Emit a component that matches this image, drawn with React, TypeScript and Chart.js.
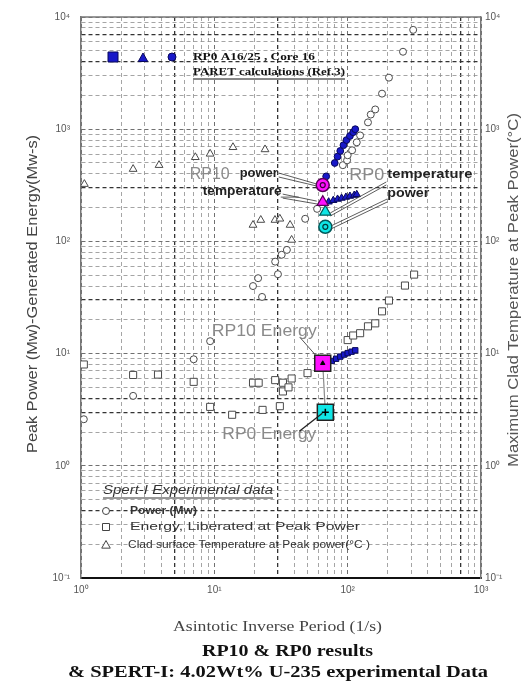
import React, { useEffect, useRef } from 'react';
import { Chart, registerables } from 'chart.js';

Chart.register(...registerables);

// ---------- axes ----------
const xDecades = [1, 10, 100, 1000];
const yDecades = [0.1, 1, 10, 100, 1000, 10000];
const minorSteps = [2, 3, 4, 5, 6, 7, 8, 9];
const xBoldGrid = [5, 30, 700];
const yBoldGrid = [0.4, 3, 4, 30, 300, 4000, 7000];

// ---------- SPERT-I experimental data (open markers) ----------
const spertPowerX = [1.05, 2.46, 7.0, 9.3, 19.5, 21.3, 22.8, 28.6, 30, 32, 35, 48, 59, 92, 99, 100, 108, 117, 124, 142, 149, 161, 181, 204, 260, 310];
const spertPowerY = [2.6, 4.2, 8.9, 12.9, 40, 47, 32, 66, 51, 76, 84, 159, 195, 478, 528, 586, 649, 764, 880, 1150, 1350, 1500, 2075, 2880, 4900, 7680];

const spertEnergyX = [1.05, 2.46, 3.78, 7.0, 9.3, 13.6, 19.5, 21.5, 23, 28.6, 31, 32.7, 32.7, 36, 38, 50, 100, 110, 124, 142, 161, 181, 204, 269, 315];
const spertEnergyY = [8.0, 6.45, 6.5, 5.6, 3.35, 2.85, 5.5, 5.5, 3.15, 5.8, 3.4, 5.5, 4.6, 5.0, 6.0, 6.7, 13.2, 14.5, 15.2, 17.5, 18.6, 23.8, 29.7, 40.4, 50.6];

const spertTempX = [1.06, 2.46, 3.85, 7.2, 9.3, 13.8, 24, 19.5, 22.3, 28.5, 31, 37, 38];
const spertTempY = [324, 441, 478, 562, 603, 690, 660, 140, 155, 155, 159, 140, 103];

// ---------- RP0 A16/25 Core 16 PARET calculations (blue filled) ----------
const paretPowerX = [69, 80, 84, 88, 93, 98, 104, 110, 114];
const paretPowerY = [380, 500, 570, 640, 720, 800, 870, 940, 1000];
const paretTempX = [72, 78, 84, 90, 97, 104, 112, 117];
const paretTempY = [225, 232, 238, 243, 248, 253, 258, 262];
const paretEnergyX = [76, 82, 88, 94, 100, 107, 114];
const paretEnergyY = [8.6, 9.0, 9.4, 9.8, 10.1, 10.4, 10.7];

// ---------- RP10 (magenta) and RP0 (cyan) results ----------
const rp10X = [65];
const rp10PowerY = [318];
const rp10TempY = [224];
const rp10EnergyY = [8.2];
const rp0X = [68];
const rp0PowerY = [135];
const rp0TempY = [183];
const rp0EnergyY = [3.0];

const SANS = '"Liberation Sans", Arial, sans-serif';
const SERIF = '"Liberation Serif", "Times New Roman", serif';
const BLUE = '#1818c8';
const MAGENTA = '#ff10ff';
const CYAN = '#10e6e6';

const SUP: Record<string, string> = { '-': '⁻', '0': '⁰', '1': '¹', '2': '²', '3': '³', '4': '⁴', '5': '⁵', '6': '⁶', '7': '⁷', '8': '⁸', '9': '⁹' };
const decadeLabel = (v: number) => {
  const e = Math.log10(v);
  const r = Math.round(e);
  if (Math.abs(e - r) > 1e-6) return '';
  return '10' + String(r).split('').map((c) => SUP[c]).join('');
};
const buildTicks = (decades: number[]) => {
  const out: number[] = [];
  decades.forEach((d, i) => {
    out.push(d);
    if (i < decades.length - 1) minorSteps.forEach((m) => out.push(d * m));
  });
  return out;
};
const isIn = (v: number, list: number[]) => list.some((b) => Math.abs(v / b - 1) < 1e-6);
const pts = (xs: number[], ys: number[]) => xs.map((x, i) => ({ x, y: ys[i] }));

function fitText(ctx: CanvasRenderingContext2D, text: string, x: number, y: number, width: number, font: string, color: string, rot = 0) {
  ctx.save();
  ctx.font = font;
  ctx.fillStyle = color;
  ctx.textBaseline = 'middle';
  ctx.textAlign = 'left';
  const w = ctx.measureText(text).width;
  ctx.translate(x, y);
  if (rot) ctx.rotate(rot);
  ctx.scale(width / w, 1);
  ctx.fillText(text, 0, 0);
  ctx.restore();
}
function seg(ctx: CanvasRenderingContext2D, x1: number, y1: number, x2: number, y2: number, color = '#333', w = 0.8) {
  ctx.save();
  ctx.strokeStyle = color;
  ctx.lineWidth = w;
  ctx.beginPath();
  ctx.moveTo(x1, y1);
  ctx.lineTo(x2, y2);
  ctx.stroke();
  ctx.restore();
}
function marker(ctx: CanvasRenderingContext2D, kind: string, x: number, y: number, r: number, fill: string, stroke: string) {
  ctx.save();
  ctx.fillStyle = fill;
  ctx.strokeStyle = stroke;
  ctx.lineWidth = 1;
  ctx.beginPath();
  if (kind === 'circle') ctx.arc(x, y, r, 0, Math.PI * 2);
  else if (kind === 'rect') ctx.rect(x - r, y - r, 2 * r, 2 * r);
  else {
    ctx.moveTo(x, y - r);
    ctx.lineTo(x + r * 0.95, y + r * 0.7);
    ctx.lineTo(x - r * 0.95, y + r * 0.7);
    ctx.closePath();
  }
  ctx.fill();
  ctx.stroke();
  ctx.restore();
}

const annotate = {
  id: 'annotate',
  beforeDatasetsDraw(chart: any) {
    const { ctx, scales } = chart;
    const x = scales.x, y = scales.y;
    seg(ctx, x.getPixelForValue(rp10X[0]), y.getPixelForValue(rp10EnergyY[0]), x.getPixelForValue(rp0X[0]), y.getPixelForValue(rp0EnergyY[0]), '#8a8a8a', 1.2);
  },
  afterDatasetsDraw(chart: any) {
    const { ctx, scales, chartArea } = chart;
    const x = scales.x, y = scales.y;
    const L = chartArea.left, T = chartArea.top, B = chartArea.bottom;

    // --- RP10 power / temperature labels ---
    const P = { x: x.getPixelForValue(rp10X[0]), y: y.getPixelForValue(rp10PowerY[0]) };
    const Tm = { x: x.getPixelForValue(rp10X[0]), y: y.getPixelForValue(rp10TempY[0]) };
    fitText(ctx, 'RP10', P.x - 133, P.y - 11, 40, `17px ${SANS}`, '#8a8a8a');
    fitText(ctx, 'power', P.x - 83, P.y - 11, 38, `bold 12px ${SANS}`, '#222');
    fitText(ctx, 'temperature', P.x - 120, P.y + 7, 79, `bold 12px ${SANS}`, '#222');
    seg(ctx, P.x - 44, P.y - 12, P.x - 6, P.y - 1);
    seg(ctx, P.x - 44, P.y - 8, P.x - 6, P.y + 1);
    seg(ctx, Tm.x - 40, Tm.y - 8, Tm.x - 6, Tm.y - 1);
    seg(ctx, Tm.x - 40, Tm.y - 4, Tm.x - 5, Tm.y + 2);
    seg(ctx, Tm.x - 42, Tm.y - 5, Tm.x - 24, Tm.y - 5);

    // --- RP0 power / temperature labels ---
    const T0 = { x: x.getPixelForValue(rp0X[0]), y: y.getPixelForValue(rp0TempY[0]) };
    const C0 = { x: x.getPixelForValue(rp0X[0]), y: y.getPixelForValue(rp0PowerY[0]) };
    fitText(ctx, 'RP0', T0.x + 24, T0.y - 37, 35, `17px ${SANS}`, '#8a8a8a');
    fitText(ctx, 'temperature', T0.x + 62, T0.y - 37, 85, `bold 12px ${SANS}`, '#222');
    fitText(ctx, 'power', T0.x + 62, T0.y - 18, 42, `bold 12px ${SANS}`, '#222');
    seg(ctx, T0.x + 61, T0.y - 30, T0.x + 5, T0.y + 1);
    seg(ctx, T0.x + 61, T0.y - 27, T0.x + 5, T0.y + 4);
    seg(ctx, T0.x + 62, T0.y - 13, C0.x + 6, C0.y - 1);
    seg(ctx, T0.x + 62, T0.y - 10, C0.x + 6, C0.y + 2);

    // --- energy labels ---
    const E10 = { x: x.getPixelForValue(rp10X[0]), y: y.getPixelForValue(rp10EnergyY[0]) };
    const E0 = { x: x.getPixelForValue(rp0X[0]), y: y.getPixelForValue(rp0EnergyY[0]) };
    fitText(ctx, 'RP10 Energy', E10.x - 111, E10.y - 32, 105, `17px ${SANS}`, '#8a8a8a');
    seg(ctx, E10.x - 22, E10.y - 25, E10.x - 7, E10.y - 8, '#555', 1);
    fitText(ctx, 'RP0 Energy', E0.x - 103, E0.y + 22, 94, `17px ${SANS}`, '#8a8a8a');
    seg(ctx, E0.x - 26, E0.y + 19, E0.x - 3, E0.y + 1, '#222', 1.3);

    // --- PARET legend (top-left) ---
    marker(ctx, 'rect', L + 32, T + 40, 5, BLUE, '#08085a');
    marker(ctx, 'tri', L + 62, T + 41, 5, BLUE, '#08085a');
    marker(ctx, 'circle', L + 91, T + 40, 4, BLUE, '#08085a');
    fitText(ctx, 'RP0 A16/25 , Core 16', L + 112, T + 40, 122, `bold 11px ${SERIF}`, '#111');
    fitText(ctx, 'PARET calculations (Ref.3)', L + 112, T + 55, 152, `bold 11px ${SERIF}`, '#111');
    seg(ctx, L + 112, T + 62, L + 264, T + 62, '#111', 1);

    // --- SPERT-I legend (bottom-left) ---
    fitText(ctx, 'Spert-I Experimental data', L + 22, B - 87, 170, `italic 12px ${SANS}`, '#333');
    seg(ctx, L + 22, B - 80, L + 192, B - 80, '#333', 1);
    marker(ctx, 'circle', L + 25, B - 67, 3.5, '#fff', '#444');
    fitText(ctx, 'Power (Mw)', L + 49, B - 67, 67, `bold 10px ${SANS}`, '#333');
    marker(ctx, 'rect', L + 25, B - 51, 3.5, '#fff', '#444');
    fitText(ctx, 'Energy, Liberated at Peak Power', L + 49, B - 51, 230, `11px ${SANS}`, '#333');
    marker(ctx, 'tri', L + 25, B - 33, 4.5, '#fff', '#444');
    fitText(ctx, 'Clad surface Temperature at Peak power(°C )', L + 47, B - 33, 242, `11px ${SANS}`, '#333');
  },
  afterDraw(chart: any) {
    const { ctx, chartArea } = chart;
    seg(ctx, chartArea.left, chartArea.top, chartArea.right, chartArea.top, '#777', 1.5);
    fitText(ctx, 'Peak Power (Mw)-Generated Energy(Mw-s)', 33, 453, 318, `14px ${SANS}`, '#444', -Math.PI / 2);
    fitText(ctx, 'Maximum Clad Temperature at Peak Power(°C)', 514, 467, 354, `14px ${SANS}`, '#555', -Math.PI / 2);
    fitText(ctx, 'Asintotic Inverse Period (1/s)', 173, 627, 209, `15px ${SERIF}`, '#444');
    fitText(ctx, 'RP10 & RP0 results', 202, 652, 171, `bold 17px ${SERIF}`, '#111');
    fitText(ctx, '& SPERT-I: 4.02Wt% U-235 experimental Data', 68, 673, 420, `bold 17px ${SERIF}`, '#111');
  },
};

function gridFor(bold: number[], decades: number[], onArea = true) {
  return {
    drawOnChartArea: onArea,
    drawTicks: false,
    color: (c: any) => {
      const v = c.tick ? c.tick.value : NaN;
      if (isIn(v, bold)) return '#333333';
      if (isIn(v, decades)) return '#707070';
      return '#8e8e8e';
    },
    lineWidth: (c: any) => {
      const v = c.tick ? c.tick.value : NaN;
      if (isIn(v, bold)) return 1.3;
      if (isIn(v, decades)) return 1;
      return 0.8;
    },
  };
}

export default function App() {
  const ref = useRef<HTMLCanvasElement>(null);
  useEffect(() => {
    const canvas = ref.current;
    if (!canvas) return;
    const xTicks = buildTicks(xDecades);
    const yTicks = buildTicks(yDecades);
    const tickFont = { family: SANS, size: 10 };

    const open = (data: any[], style: string, r: number, yAxisID = 'y') => ({
      data, yAxisID, pointStyle: style, pointRadius: r, pointBackgroundColor: '#ffffff', pointBorderColor: '#4a4a4a', pointBorderWidth: 1,
    });
    const filled = (data: any[], style: string, r: number, fill: string, stroke: string, bw = 1, yAxisID = 'y') => ({
      data, yAxisID, pointStyle: style, pointRadius: r, pointBackgroundColor: fill, pointBorderColor: stroke, pointBorderWidth: bw,
    });

    const chart = new Chart(canvas, {
      type: 'scatter',
      data: {
        datasets: [
          { label: 'RP0 energy mark', ...filled(pts(rp0X, rp0EnergyY), 'cross', 3.5, '#000', '#000', 1.5) },
          { label: 'RP10 energy mark', ...filled(pts(rp10X, rp10EnergyY), 'triangle', 2.5, '#000', '#000', 1) },
          { label: 'RP10 power mark', ...filled(pts(rp10X, rp10PowerY), 'circle', 2.5, MAGENTA, '#3a003a', 1.2) },
          { label: 'RP0 power mark', ...filled(pts(rp0X, rp0PowerY), 'circle', 2.5, CYAN, '#003a3a', 1.2) },
          { label: 'RP10 power', ...filled(pts(rp10X, rp10PowerY), 'circle', 6.5, MAGENTA, '#5a005a', 1.5) },
          { label: 'RP10 temperature', ...filled(pts(rp10X, rp10TempY), 'triangle', 6.5, MAGENTA, '#5a005a', 1.2, 'y2') },
          { label: 'RP10 energy', ...filled(pts(rp10X, rp10EnergyY), 'rect', 11.3, MAGENTA, '#222', 1.5) },
          { label: 'RP0 power', ...filled(pts(rp0X, rp0PowerY), 'circle', 6.5, CYAN, '#005a5a', 1.5) },
          { label: 'RP0 temperature', ...filled(pts(rp0X, rp0TempY), 'triangle', 6.5, CYAN, '#005a5a', 1.2, 'y2') },
          { label: 'RP0 energy', ...filled(pts(rp0X, rp0EnergyY), 'rect', 11.3, CYAN, '#222', 1.5) },
          { label: 'PARET power', ...filled(pts(paretPowerX, paretPowerY), 'circle', 3.4, BLUE, '#08085a') },
          { label: 'PARET temperature', ...filled(pts(paretTempX, paretTempY), 'triangle', 4.2, BLUE, '#08085a', 1, 'y2') },
          { label: 'PARET energy', ...filled(pts(paretEnergyX, paretEnergyY), 'rect', 3.8, BLUE, '#08085a') },
          { label: 'SPERT power', ...open(pts(spertPowerX, spertPowerY), 'circle', 3.5) },
          { label: 'SPERT energy', ...open(pts(spertEnergyX, spertEnergyY), 'rect', 5) },
          { label: 'SPERT temperature', ...open(pts(spertTempX, spertTempY), 'triangle', 4.5, 'y2') },
        ] as any,
      },
      options: {
        responsive: false,
        maintainAspectRatio: false,
        animation: false,
        devicePixelRatio: 1,
        events: [],
        layout: { padding: { top: 14, left: 0, right: 0, bottom: 0 } },
        plugins: { legend: { display: false }, tooltip: { enabled: false }, title: { display: false } },
        scales: {
          x: {
            type: 'logarithmic',
            position: 'bottom',
            min: 1,
            max: 1000,
            afterBuildTicks: (s: any) => { s.ticks = xTicks.map((value) => ({ value })); },
            afterFit: (s: any) => { s.height = 110; },
            ticks: { autoSkip: false, maxRotation: 0, minRotation: 0, padding: 6, color: '#555', font: tickFont, callback: (v: any) => decadeLabel(Number(v)) },
            grid: gridFor(xBoldGrid, xDecades),
            border: { display: true, color: '#111', width: 2, dash: [4, 3] },
          },
          y: {
            type: 'logarithmic',
            position: 'left',
            min: 0.1,
            max: 10000,
            afterBuildTicks: (s: any) => { s.ticks = yTicks.map((value) => ({ value })); },
            afterFit: (s: any) => { s.width = 81; },
            ticks: { autoSkip: false, padding: 11, color: '#555', font: tickFont, callback: (v: any) => decadeLabel(Number(v)) },
            grid: gridFor(yBoldGrid, yDecades),
            border: { display: true, color: '#777', width: 1.5, dash: [4, 3] },
          },
          y2: {
            type: 'logarithmic',
            position: 'right',
            min: 0.1,
            max: 10000,
            afterBuildTicks: (s: any) => { s.ticks = yTicks.map((value) => ({ value })); },
            afterFit: (s: any) => { s.width = 42; },
            ticks: { autoSkip: false, padding: 4, color: '#555', font: tickFont, callback: (v: any) => decadeLabel(Number(v)) },
            grid: gridFor(yBoldGrid, yDecades, false),
            border: { display: true, color: '#777', width: 1.5 },
          },
        },
      } as any,
      plugins: [annotate],
    });
    return () => chart.destroy();
  }, []);

  return (
    <div style={{ position: 'absolute', left: 0, top: 0, width: 523, height: 688, background: '#fff' }}>
      <canvas ref={ref} width={523} height={688} style={{ display: 'block', width: 523, height: 688 }} />
    </div>
  );
}
